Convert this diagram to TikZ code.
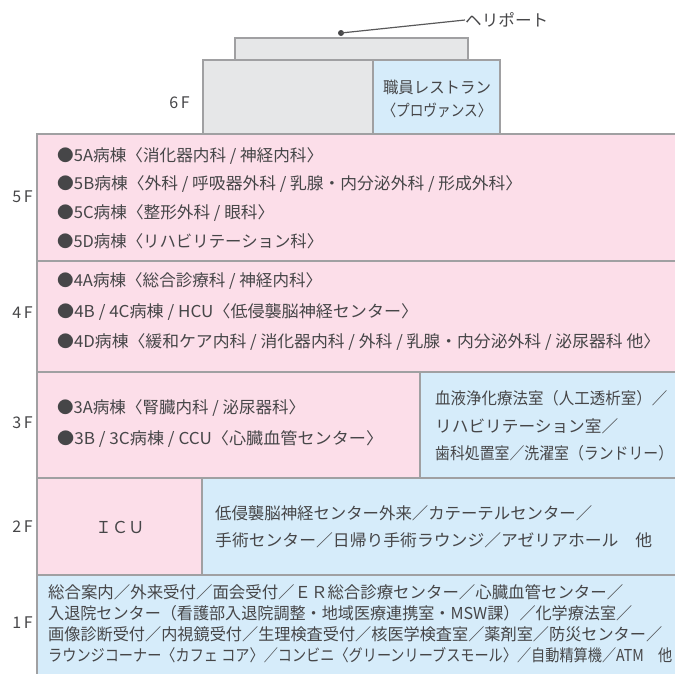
\documentclass[tikz,border=0pt]{standalone}
\usepackage{fontspec}
\usepackage{graphicx}
\setmainfont{Noto Sans CJK JP}
\definecolor{wallgray}{RGB}{160,160,162}
\definecolor{pinkf}{RGB}{252,222,233}
\definecolor{bluef}{RGB}{214,236,250}
\definecolor{grayf}{RGB}{230,231,232}
\definecolor{ink}{RGB}{70,70,72}
\newcommand\fitw[2]{\resizebox{#1pt}{\height}{#2}}
\begin{document}
\begin{tikzpicture}[x=1pt,y=-1pt,
  wall/.style={draw=wallgray, line width=1.2pt, rectangle, inner sep=0pt, outer sep=0pt, anchor=north west},
  txt/.style={text=ink, inner sep=0pt, anchor=west, align=left, font=\fontsize{16.4}{20}\selectfont},
  flabel/.style={text=ink, inner sep=0pt, anchor=east, font=\fontsize{16}{18}\selectfont},
  leader/.style={draw=ink!90, line width=1.2pt}]
\useasboundingbox (0,0) rectangle (675,673);
% floors
\node[wall, fill=bluef, minimum width=640pt, minimum height=101pt] (f1) at (37,575) {};
\node[wall, fill=pinkf, minimum width=165pt, minimum height=97pt] (f2a) at (37,478) {};
\node[wall, fill=bluef, minimum width=475pt, minimum height=97pt] (f2b) at (202,478) {};
\node[wall, fill=pinkf, minimum width=383pt, minimum height=106pt] (f3a) at (37,372) {};
\node[wall, fill=bluef, minimum width=257pt, minimum height=106pt] (f3b) at (420,372) {};
\node[wall, fill=pinkf, minimum width=640pt, minimum height=111pt] (f4) at (37,261) {};
\node[wall, fill=pinkf, minimum width=640pt, minimum height=127pt] (f5) at (37,134) {};
\node[wall, fill=grayf, minimum width=170pt, minimum height=74pt] (f6a) at (203,60) {};
\node[wall, fill=bluef, minimum width=127pt, minimum height=74pt] (f6b) at (373,60) {};
\node[wall, fill=grayf, minimum width=233pt, minimum height=22pt] (roof) at (235,38) {};
% heliport
\coordinate (dot) at (341,33);
\fill[ink] (dot) circle (3pt);
\node[txt] (heli) at (465,20) {\fitw{83}{ヘリポート}};
\draw[leader] (dot) -- (heli.west);
% floor labels
\node[flabel] (l6) at (190,103) {6\,F};
\node[flabel] (l5) at (33,197) {5\,F};
\node[flabel] (l4) at (33,313) {4\,F};
\node[flabel] (l3) at (33,423) {3\,F};
\node[flabel] (l2) at (33,527) {2\,F};
\node[flabel] (l1) at (33,623) {1\,F};
% contents
\node[txt, anchor=center, align=center, font=\fontsize{16}{23}\selectfont] (t6) at (437,99) {\fitw{108}{職員レストラン}\\\fitw{109}{〈プロヴァンス〉}};
\node[txt, font=\fontsize{16.4}{28.7}\selectfont] (t5) at (57,198) {\fitw{266}{●5A病棟〈消化器内科 / 神経内科〉}\\\fitw{465}{●5B病棟〈外科 / 呼吸器外科 / 乳腺・内分泌外科 / 形成外科〉}\\\fitw{217}{●5C病棟〈整形外科 / 眼科〉}\\\fitw{266}{●5D病棟〈リハビリテーション科〉}};
\node[txt, font=\fontsize{16.4}{30.5}\selectfont] (t4) at (57,312) {\fitw{265}{●4A病棟〈総合診療科 / 神経内科〉}\\\fitw{361}{●4B / 4C病棟 / HCU〈低侵襲脳神経センター〉}\\\fitw{603}{●4D病棟〈緩和ケア内科 / 消化器内科 / 外科 / 乳腺・内分泌外科 / 泌尿器科 他〉}};
\node[txt, font=\fontsize{16.4}{31}\selectfont] (t3a) at (57,423.5) {\fitw{248}{●3A病棟〈腎臓内科 / 泌尿器科〉}\\\fitw{326}{●3B / 3C病棟 / CCU〈心臓血管センター〉}};
\node[txt, font=\fontsize{16.4}{27.5}\selectfont] (t3b) at (435,426) {\fitw{232}{血液浄化療法室（人工透析室）／}\\\fitw{183}{リハビリテーション室／}\\\fitw{238}{歯科処置室／洗濯室（ランドリー）}};
\node[txt, anchor=center] (t2a) at (120,527) {ＩＣＵ};
\node[txt, font=\fontsize{16.4}{27}\selectfont] (t2b) at (215,527) {\fitw{377}{低侵襲脳神経センター外来／カテーテルセンター／}\\\fitw{437}{手術センター／日帰り手術ラウンジ／アゼリアホール\quad 他}};
\node[txt, font=\fontsize{16.4}{21}\selectfont] (t1) at (48,624) {\fitw{575}{総合案内／外来受付／面会受付／ＥＲ総合診療センター／心臓血管センター／}\\\fitw{584}{入退院センター（看護部入退院調整・地域医療連携室・MSW課）／化学療法室／}\\\fitw{614}{画像診断受付／内視鏡受付／生理検査受付／核医学検査室／薬剤室／防災センター／}\\\fitw{624}{ラウンジコーナー〈カフェ コア〉／コンビニ〈グリーンリーブスモール〉／自動精算機／ATM\quad 他}};
\end{tikzpicture}
\end{document}
